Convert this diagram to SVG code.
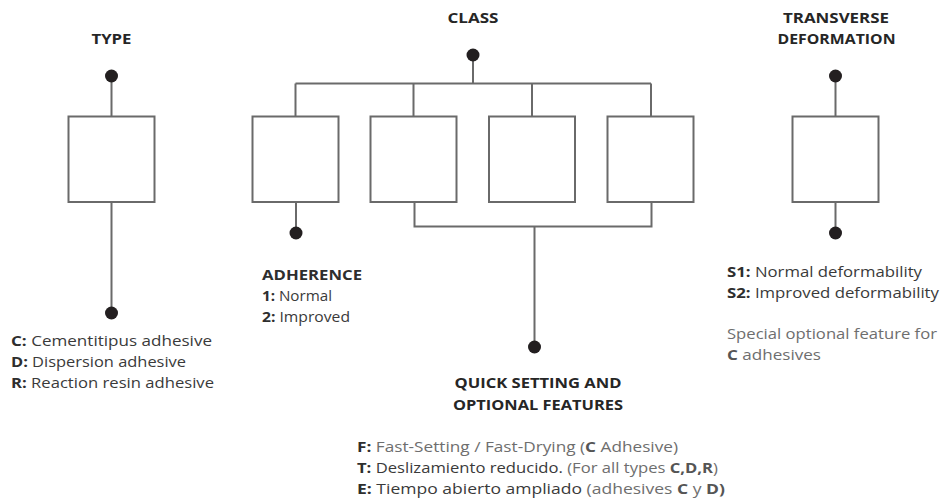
<svg xmlns="http://www.w3.org/2000/svg" width="941" height="501" viewBox="0 0 941 501">
<style>
text{font-family:"Open Sans","Liberation Sans",sans-serif;font-size:15px;fill:#3a3a3a}
.h{font-weight:700;fill:#262626;text-anchor:middle}
.b{font-weight:700;fill:#2e2e2e}
.g{fill:#6e6e6e}
.gb{fill:#555;font-weight:700}
.box{fill:#fff;stroke:#6a6a6a;stroke-width:2}
.ln{fill:none;stroke:#6a6a6a;stroke-width:2}
.dot{fill:#231f20}
</style>
<rect width="941" height="501" fill="#fff"/>
<g id="connectors">
<path class="ln" d="M111.5 76V116M111.5 202V313"/>
<path class="ln" d="M473 55V83.5M295.5 83.5H651M295.5 83.5V116M413.5 83.5V116M532 83.5V116M651 83.5V116"/>
<path class="ln" d="M296 202V233"/>
<path class="ln" d="M414.5 202V226.5H651.5V202M534.5 226.5V347"/>
<path class="ln" d="M835.5 76V116M835.5 202V233"/>
</g>
<g id="type">
<text class="h" x="111.5" y="44" textLength="40" lengthAdjust="spacingAndGlyphs">TYPE</text>
<circle class="dot" cx="111.5" cy="76" r="6.5"/>
<rect class="box" x="68.5" y="116.5" width="86" height="85.5"/>
<circle class="dot" cx="111.5" cy="313" r="6.5"/>
<text x="11" y="346" textLength="201" lengthAdjust="spacingAndGlyphs"><tspan class="b">C:</tspan> Cementitipus adhesive</text>
<text x="11" y="367" textLength="175" lengthAdjust="spacingAndGlyphs"><tspan class="b">D:</tspan> Dispersion adhesive</text>
<text x="11" y="388" textLength="203" lengthAdjust="spacingAndGlyphs"><tspan class="b">R:</tspan> Reaction resin adhesive</text>
</g>
<g id="class">
<text class="h" x="473" y="23" textLength="51" lengthAdjust="spacingAndGlyphs">CLASS</text>
<circle class="dot" cx="473" cy="55" r="6.5"/>
</g>
<g id="class-box-1"><rect class="box" x="252.5" y="116.5" width="86" height="85.5"/></g>
<g id="class-box-2"><rect class="box" x="370.5" y="116.5" width="86" height="85.5"/></g>
<g id="class-box-3"><rect class="box" x="489" y="116.5" width="86" height="85.5"/></g>
<g id="class-box-4"><rect class="box" x="607.5" y="116.5" width="86" height="85.5"/></g>
<g id="adherence">
<circle class="dot" cx="296" cy="233" r="6.5"/>
<text class="b" x="262" y="280" textLength="100" lengthAdjust="spacingAndGlyphs">ADHERENCE</text>
<text x="262" y="301" textLength="70" lengthAdjust="spacingAndGlyphs"><tspan class="b">1:</tspan> Normal</text>
<text x="262" y="322" textLength="88" lengthAdjust="spacingAndGlyphs"><tspan class="b">2:</tspan> Improved</text>
</g>
<g id="quick">
<circle class="dot" cx="534.5" cy="347" r="6.5"/>
<text class="h" x="538" y="388" textLength="167" lengthAdjust="spacingAndGlyphs">QUICK SETTING AND</text>
<text class="h" x="538" y="410" textLength="170" lengthAdjust="spacingAndGlyphs">OPTIONAL FEATURES</text>
<text x="357" y="452" textLength="321" lengthAdjust="spacingAndGlyphs"><tspan class="b">F:</tspan><tspan class="g"> Fast-Setting / Fast-Drying (</tspan><tspan class="gb">C</tspan><tspan class="g"> Adhesive)</tspan></text>
<text x="357" y="473" textLength="361" lengthAdjust="spacingAndGlyphs"><tspan class="b">T:</tspan> Deslizamiento reducido. <tspan class="g">(For all types </tspan><tspan class="gb">C,D,R</tspan><tspan class="g">)</tspan></text>
<text x="357" y="494" textLength="368" lengthAdjust="spacingAndGlyphs"><tspan class="b">E:</tspan> Tiempo abierto ampliado <tspan class="g">(adhesives </tspan><tspan class="gb">C</tspan><tspan class="g"> y </tspan><tspan class="gb">D)</tspan></text>
</g>
<g id="transverse">
<text class="h" x="836" y="23" textLength="106" lengthAdjust="spacingAndGlyphs">TRANSVERSE</text>
<text class="h" x="836.5" y="44" textLength="118" lengthAdjust="spacingAndGlyphs">DEFORMATION</text>
<circle class="dot" cx="835.5" cy="76" r="6.5"/>
<rect class="box" x="792.5" y="116.5" width="86" height="85.5"/>
<circle class="dot" cx="835.5" cy="233" r="6.5"/>
<text x="727" y="277" textLength="195" lengthAdjust="spacingAndGlyphs"><tspan class="b">S1:</tspan> Normal deformability</text>
<text x="727" y="298" textLength="212" lengthAdjust="spacingAndGlyphs"><tspan class="b">S2:</tspan> Improved deformability</text>
<text class="g" x="727" y="339" textLength="210" lengthAdjust="spacingAndGlyphs">Special optional feature for</text>
<text x="727" y="360" textLength="94" lengthAdjust="spacingAndGlyphs"><tspan class="gb">C</tspan><tspan class="g"> adhesives</tspan></text>
</g>
</svg>
